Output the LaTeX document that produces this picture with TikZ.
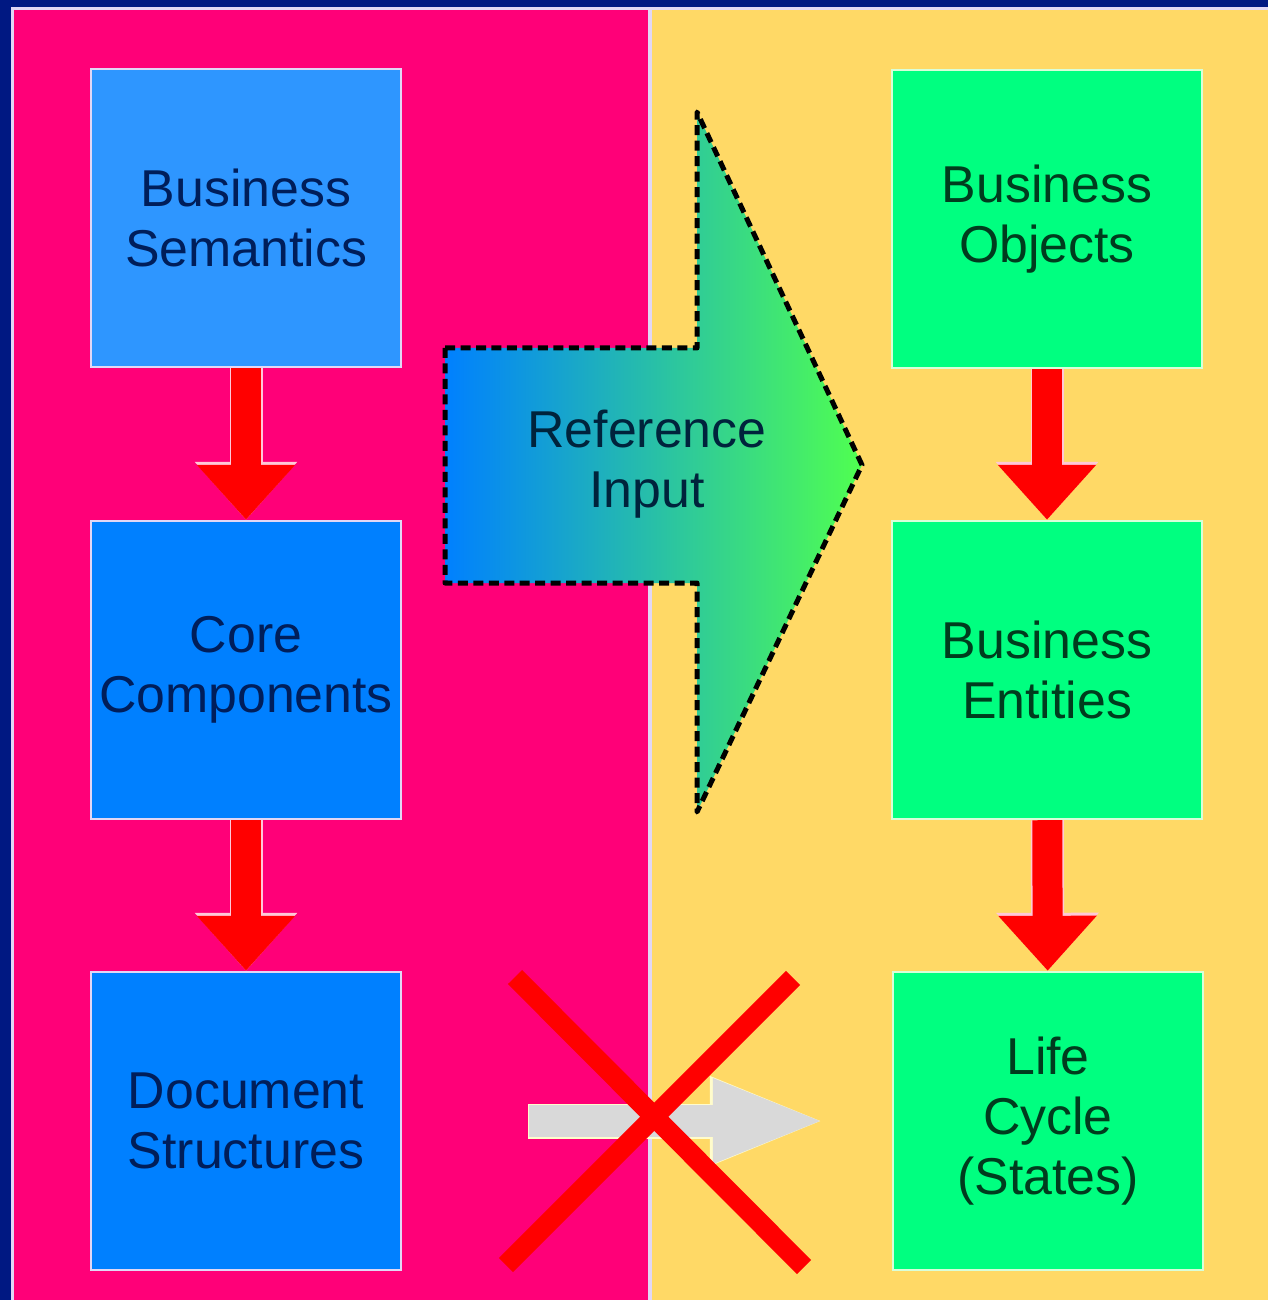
\documentclass[tikz,border=0pt]{standalone}
\usepackage{fontspec}
\setmainfont{Liberation Sans}
\usepackage{xcolor}
\usetikzlibrary{arrows.meta, positioning, calc}
\definecolor{navyframe}{RGB}{0,24,130}
\definecolor{framelight}{RGB}{225,215,245}
\definecolor{panelpink}{RGB}{255,0,120}
\definecolor{panelyellow}{RGB}{255,217,102}
\definecolor{boxblue}{RGB}{0,128,255}
\definecolor{boxlightblue}{RGB}{46,150,255}
\definecolor{boxgreen}{RGB}{0,255,128}
\definecolor{textnavy}{RGB}{0,30,90}
\definecolor{textgreen}{RGB}{0,60,30}
\definecolor{textref}{RGB}{0,35,60}
\definecolor{arrowgray}{RGB}{217,217,217}
\definecolor{arrowrim}{RGB}{255,200,215}
\definecolor{refblue}{RGB}{0,128,255}
\definecolor{refgreen}{RGB}{80,255,80}

\begin{document}
\begin{tikzpicture}[x=0.02cm, y=-0.02cm,
    box/.style={draw, line width=0.05cm, minimum width=6.2cm, minimum height=5.96cm,
      align=center, inner sep=0pt, font=\fontsize{29.5}{34}\selectfont},
    leftbox/.style={box, draw=framelight, fill=boxblue, text=textnavy},
    rightbox/.style={box, draw=green!15!white, fill=boxgreen, text=textgreen},
    redrim/.style={arrowrim, line width=0.66cm, -{Triangle[width=1.98cm,length=1.16cm]}},
    redarrow/.style={red, line width=0.6cm, -{Triangle[width=1.9cm,length=1.1cm]}},
    grayrim/.style={white!80!yellow, line width=0.7cm, -{Triangle[width=1.6cm,length=2.34cm]}},
    grayarrow/.style={arrowgray, line width=0.64cm, -{Triangle[width=1.52cm,length=2.28cm]}},
    crossline/.style={red, line width=0.4cm}]

    \useasboundingbox (0,0) rectangle (1268,1300);
    \fill[navyframe] (0,0) rectangle (1268,1300);
    \fill[framelight] (11,7) rectangle (1268,1300);
    \fill[panelpink] (14,10) rectangle (648,1300);
    \fill[panelyellow] (652,10) rectangle (1268,1300);

    \node[leftbox, fill=boxlightblue] (bs) at (246,218) {Business\\Semantics};
    \node[leftbox] (cc) at (246,670) {Core\\Components};
    \node[leftbox] (ds) at (246,1121) {Document\\Structures};

    \node[rightbox] (bo) at (1047,219) {Business\\Objects};
    \node[rightbox] (be) at (1047,670) {Business\\Entities};
    \node[rightbox] (lc) at (1048,1121) {Life\\Cycle\\(States)};

    \draw[redrim] (bs) -- (cc);
    \draw[redarrow] (bs) -- (cc);
    \draw[redrim] (cc) -- (ds);
    \draw[redarrow] (cc) -- (ds);
    \draw[redrim] (bo) -- (be);
    \draw[redarrow] (bo) -- (be);
    \draw[redrim] (be) -- (lc);
    \draw[redarrow] (be) -- (lc);

    \draw[grayrim, shorten <=2.52cm, shorten >=1.3cm] (ds) -- (lc);
    \draw[grayarrow, shorten <=2.54cm, shorten >=1.3cm] (ds) -- (lc);

    \shadedraw[left color=refblue, right color=refgreen, draw=black, line width=0.1cm,
      line join=round, dash pattern=on 0.2cm off 0.11cm]
      (445,348) -- (697,348) -- (697,112) -- (862,465) -- (697,812)
      -- (697,583) -- (445,583) -- cycle;
    \node[align=center, text=textref, font=\fontsize{29.5}{34}\selectfont] (ref) at (647,464)
      {Reference\\Input};

    \draw[crossline] (515,977) -- (804,1267);
    \draw[crossline] (793,978) -- (506,1265);
\end{tikzpicture}
\end{document}
